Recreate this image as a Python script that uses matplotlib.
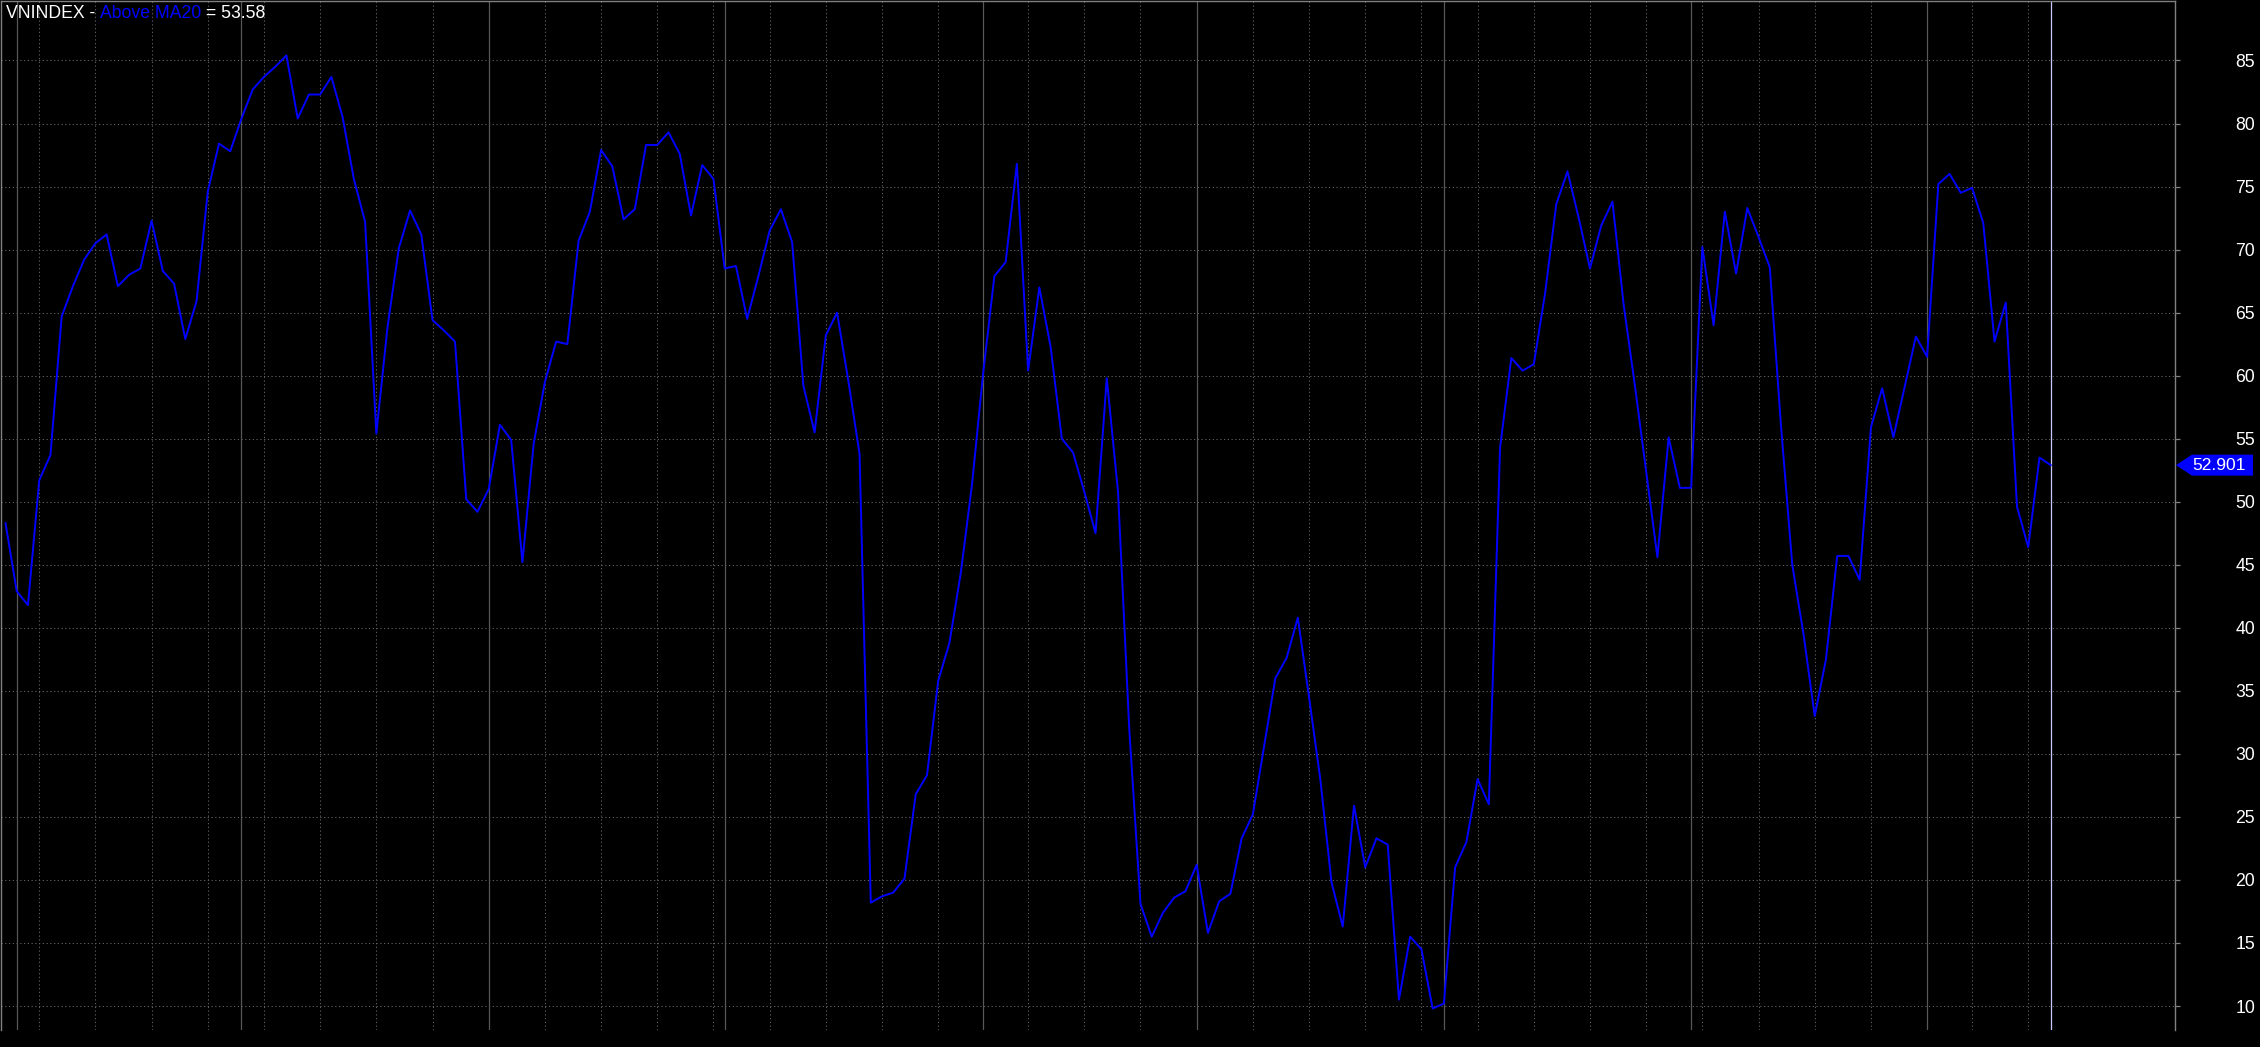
import numpy as np
import matplotlib.pyplot as plt
from matplotlib.patches import Polygon
from matplotlib.transforms import IdentityTransform

plt.rcParams['font.family'] = ['Liberation Sans', 'DejaVu Sans']

# % of stocks above MA20, one value per session
above_ma20 = [
    48.3, 42.9, 41.8, 51.7, 53.7, 64.7, 67.1, 69.2, 70.5, 71.2,
    67.1, 68.0, 68.5, 72.3, 68.3, 67.3, 62.9, 65.9, 74.6, 78.4,
    77.8, 80.4, 82.7, 83.7, 84.5, 85.4, 80.4, 82.3, 82.3, 83.7,
    80.5, 75.6, 72.2, 55.4, 63.9, 70.1, 73.1, 71.2, 64.4, 63.6,
    62.7, 50.2, 49.2, 51.0, 56.1, 54.9, 45.2, 54.6, 59.5, 62.7,
    62.5, 70.7, 73.0, 77.9, 76.6, 72.4, 73.2, 78.3, 78.3, 79.3,
    77.6, 72.7, 76.7, 75.6, 68.5, 68.7, 64.5, 67.9, 71.5, 73.2,
    70.6, 59.2, 55.5, 63.2, 65.0, 59.6, 53.8, 18.2, 18.7, 19.0,
    20.1, 26.8, 28.3, 35.8, 38.8, 44.3, 51.3, 60.2, 67.9, 69.0,
    76.8, 60.4, 67.0, 62.3, 55.0, 53.9, 50.8, 47.5, 59.8, 50.8,
    32.0, 18.1, 15.5, 17.4, 18.6, 19.1, 21.2, 15.8, 18.3, 18.9,
    23.3, 25.2, 30.6, 36.0, 37.6, 40.8, 34.5, 28.0, 19.8, 16.3,
    25.9, 21.0, 23.3, 22.8, 10.5, 15.5, 14.5, 9.8, 10.2, 21.0,
    23.0, 28.0, 26.0, 54.3, 61.4, 60.4, 60.9, 66.5, 73.6, 76.2,
    72.5, 68.5, 71.9, 73.8, 65.6, 59.2, 52.4, 45.6, 55.1, 51.1,
    51.1, 70.2, 64.0, 73.0, 68.1, 73.3, 71.0, 68.6, 56.0, 45.0,
    39.5, 33.0, 37.5, 45.7, 45.7, 43.8, 55.9, 59.0, 55.1, 59.1,
    63.1, 61.5, 75.2, 76.0, 74.5, 74.9, 72.1, 62.7, 65.8, 49.6,
    46.4, 53.5, 52.901,
]
# session index of month starts (solid) and week starts (dotted)
month_starts = [1, 21, 43, 64, 87, 106, 128, 150, 171]
week_starts = [3, 8, 13, 18, 23, 28, 33, 38, 43, 48, 53, 58, 63, 68, 73, 78, 83,
               91, 96, 101, 106, 111, 116, 121, 126, 131, 136, 141, 146, 151,
               156, 161, 166, 175, 180]
y_ticks = list(range(10, 90, 5))
title_parts = [('VNINDEX - ', 'white'), ('Above MA20', '#0000ff'), (' = 53.58', 'white')]
last_label = '52.901'

W, H = 2260, 1047
fig = plt.figure(figsize=(W / 100, H / 100), dpi=100, facecolor='black')
ax = fig.add_axes([0.5 / W, 17 / H, 2174.5 / W, 1029.5 / H])
ax.set_facecolor('black')

x = np.arange(len(above_ma20))
grid_c = '#5e5e5e'
for t in y_ticks:
    ax.axhline(t, color=grid_c, lw=0.75, ls=(0, (1.2, 2.4)), zorder=1)
for w in week_starts:
    ax.axvline(w, color=grid_c, lw=0.75, ls=(0, (1.2, 2.4)), zorder=1)
for m in month_starts:
    ax.axvline(m, color='#575757', lw=0.9, zorder=1)

ax.plot(x, above_ma20, color='#0000ff', lw=1.4, zorder=3)
ax.axvline(x[-1], color='#c8c8ff', lw=0.9, zorder=2)

ax.set_xlim(-0.445, 193.06)
ax.set_ylim(8.097, 89.757)
ax.set_xticks([])
ax.yaxis.tick_right()
ax.set_yticks(y_ticks)
ax.tick_params(axis='y', length=3.6, width=0.9, color='#808080',
               labelcolor='white', labelsize=12.7, pad=40)
for side in ['left', 'top', 'right']:
    ax.spines[side].set_color('#808080')
    ax.spines[side].set_linewidth(1)
ax.spines['bottom'].set_visible(False)

# title pieces, laid out one after the other
fig.canvas.draw()
r = fig.canvas.get_renderer()
xpos = 6
for txt, col in title_parts:
    t = fig.text(xpos / W, 1 - 18.3 / H, txt, color=col, fontsize=12.7,
                 va='baseline', ha='left')
    xpos += t.get_window_extent(r).width

# last value tag on the price axis
yp = ax.transData.transform((0, above_ma20[-1]))[1]
tag = Polygon([(2176, yp), (2192, yp + 10.5), (2253, yp + 10.5),
               (2253, yp - 10.5), (2192, yp - 10.5)], closed=True,
              transform=IdentityTransform(), facecolor='#0000ff',
              edgecolor='none')
fig.patches.append(tag)
fig.text(2219 / W, yp / H, last_label, color='white', fontsize=12.5,
         ha='center', va='center')

fig.savefig('out.png', dpi=100, facecolor='black')
